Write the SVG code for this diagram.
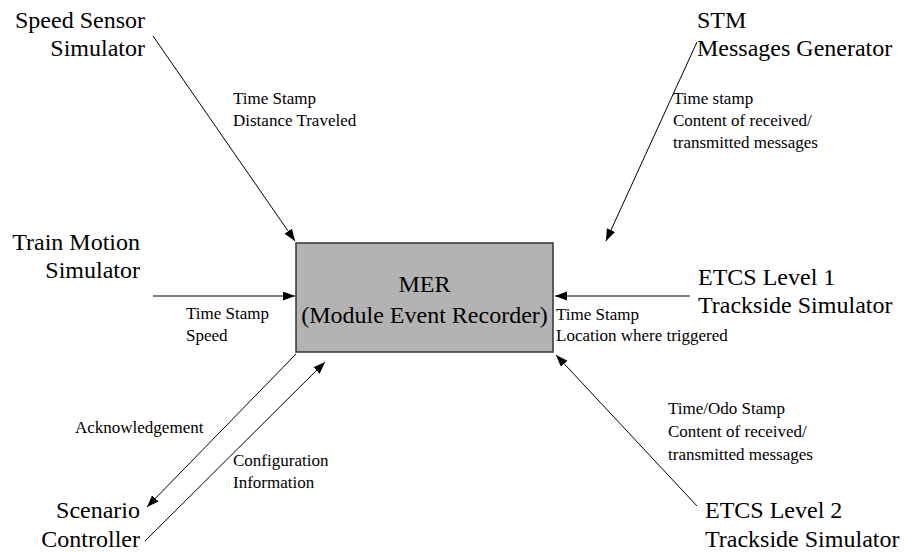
<svg xmlns="http://www.w3.org/2000/svg" width="904" height="552" viewBox="0 0 904 552">
  <style>
    .big { font-family: "Liberation Serif", "Times New Roman", serif; font-size: 24px; fill: #000; }
    .mer { font-family: "Liberation Serif", "Times New Roman", serif; font-size: 24px; fill: #000; text-anchor: middle; }
    .lbl { font-family: "Liberation Serif", "Times New Roman", serif; font-size: 17px; fill: #000; }
    .end { text-anchor: end; }
    .conn { stroke: #000; stroke-width: 1; fill: none; marker-end: url(#arrow); }
  </style>
  <defs>
    <marker id="arrow" markerUnits="userSpaceOnUse" markerWidth="13" markerHeight="10" refX="12" refY="4.5" orient="auto">
      <path d="M0,0 L12,4.5 L0,9 Z" fill="#000"/>
    </marker>
  </defs>
  <rect width="904" height="552" fill="#fff"/>

  <g id="mer">
    <rect x="296" y="243" width="257" height="109" fill="#b3b3b3" stroke="#333" stroke-width="1.5"/>
    <text class="mer" x="424.5" y="292">MER</text>
    <text class="mer" x="424.5" y="323">(Module Event Recorder)</text>
  </g>

  <g id="speed-sensor">
    <text class="big end" x="145" y="28">Speed Sensor</text>
    <text class="big end" x="145" y="56">Simulator</text>
  </g>
  <g id="stm">
    <text class="big" x="697" y="28">STM</text>
    <text class="big" x="697" y="56">Messages Generator</text>
  </g>
  <g id="train-motion">
    <text class="big end" x="140" y="250">Train Motion</text>
    <text class="big end" x="140" y="278">Simulator</text>
  </g>
  <g id="etcs1">
    <text class="big" x="698" y="285">ETCS Level 1</text>
    <text class="big" x="698" y="313">Trackside Simulator</text>
  </g>
  <g id="scenario">
    <text class="big end" x="140" y="518">Scenario</text>
    <text class="big end" x="140" y="547">Controller</text>
  </g>
  <g id="etcs2">
    <text class="big" x="705" y="518">ETCS Level 2</text>
    <text class="big" x="705" y="547">Trackside Simulator</text>
  </g>

  <g id="connectors">
    <line class="conn" x1="153" y1="36" x2="295" y2="241"/>
    <line class="conn" x1="153" y1="296" x2="295" y2="296"/>
    <line class="conn" x1="697" y1="42" x2="606" y2="241"/>
    <line class="conn" x1="690" y1="296" x2="555" y2="296"/>
    <line class="conn" x1="697" y1="506" x2="556" y2="355"/>
    <line class="conn" x1="296" y1="354" x2="147" y2="507"/>
    <line class="conn" x1="145" y1="541" x2="325" y2="362"/>

    <text class="lbl" x="233" y="104">Time Stamp</text>
    <text class="lbl" x="233" y="126">Distance Traveled</text>
    <text class="lbl" x="673" y="104">Time stamp</text>
    <text class="lbl" x="673" y="126">Content of received/</text>
    <text class="lbl" x="673" y="148">transmitted messages</text>
    <text class="lbl" x="186" y="319">Time Stamp</text>
    <text class="lbl" x="186" y="341">Speed</text>
    <text class="lbl" x="556" y="320">Time Stamp</text>
    <text class="lbl" x="556" y="341">Location where triggered</text>
    <text class="lbl" x="668" y="414">Time/Odo Stamp</text>
    <text class="lbl" x="668" y="437">Content of received/</text>
    <text class="lbl" x="668" y="460">transmitted messages</text>
    <text class="lbl" x="75" y="433">Acknowledgement</text>
    <text class="lbl" x="233" y="466">Configuration</text>
    <text class="lbl" x="233" y="488">Information</text>
  </g>
</svg>
